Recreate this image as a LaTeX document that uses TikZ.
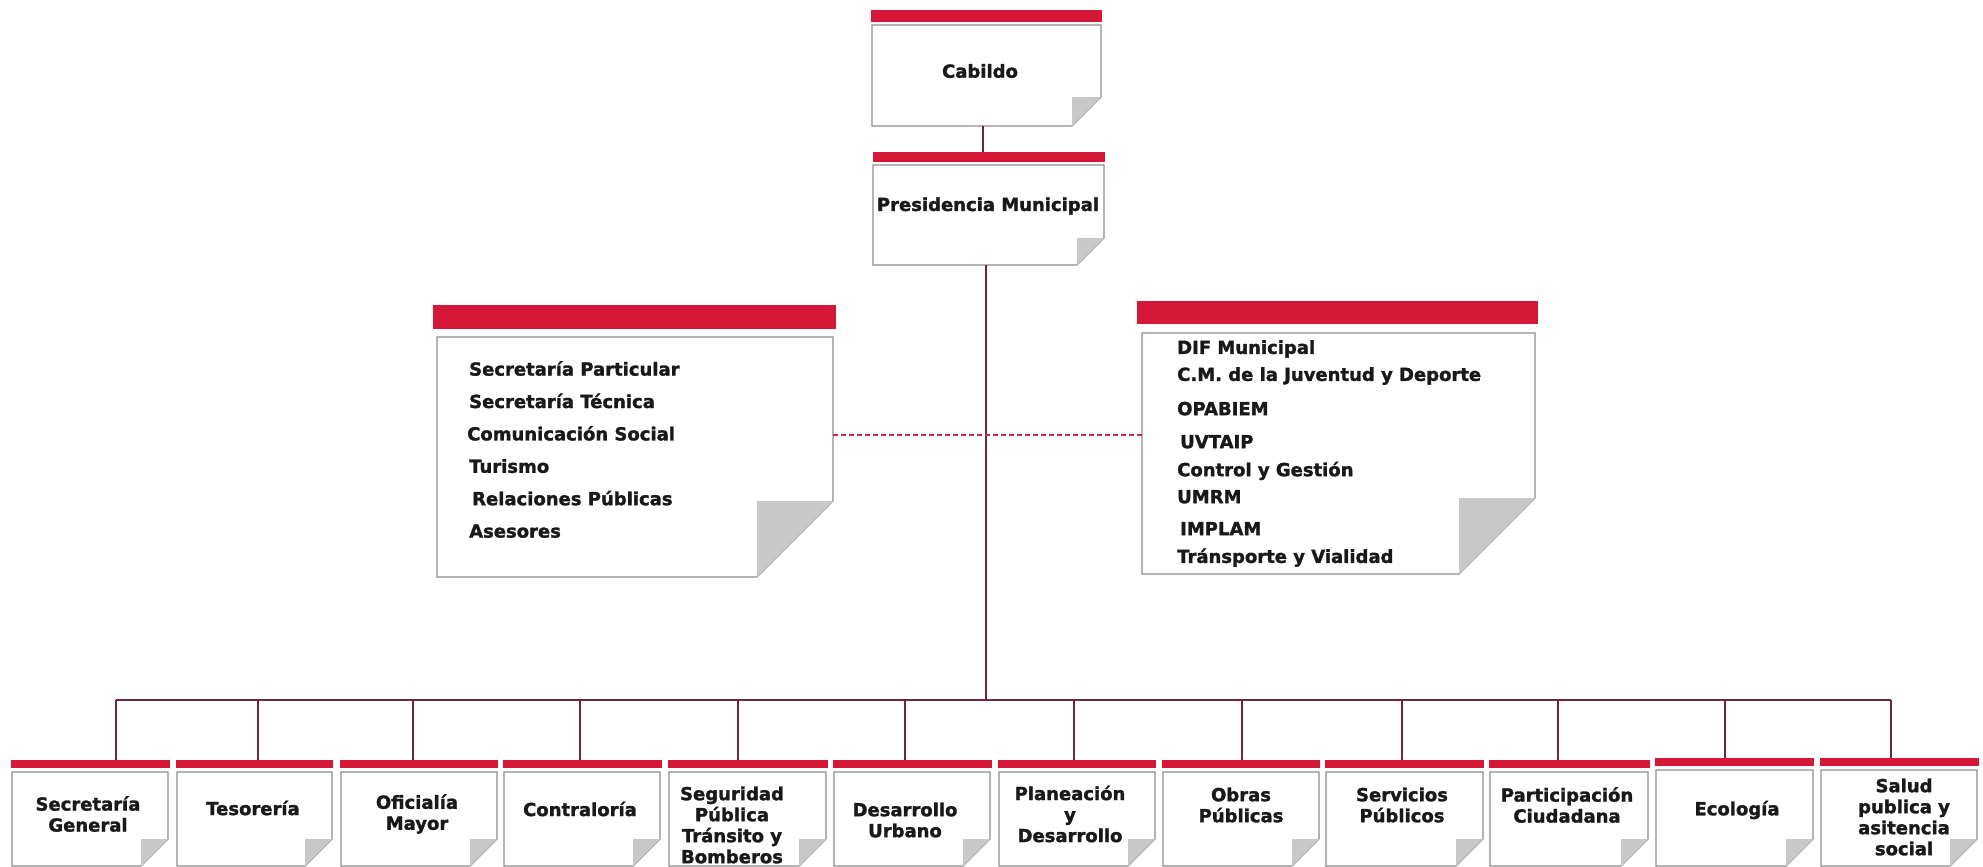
\documentclass[tikz,border=0pt]{standalone}
\usepackage{fontspec}
\setmainfont{DejaVu Sans}[BoldFeatures={FakeBold=1.6}]
\definecolor{barred}{RGB}{214,24,56}
\definecolor{connc}{RGB}{105,40,60}
\definecolor{edgec}{RGB}{140,140,140}
\definecolor{foldg}{RGB}{200,200,200}
\definecolor{dashred}{RGB}{205,45,75}
\definecolor{txtc}{RGB}{25,25,25}
\tikzset{
  redbar/.style={fill=barred, draw=none, inner sep=0pt, outer sep=0pt},
  boxnode/.style={draw=none, inner sep=0pt, outer sep=0pt},
  boxline/.style={draw=edgec, fill=white, line width=1.3pt},
  foldfill/.style={fill=foldg},
  connline/.style={draw=connc, line width=1.6pt},
  dashconn/.style={draw=dashred, line width=1.6pt, dash pattern=on 5pt off 3pt},
  txt/.style={font=\fontsize{18}{21}\selectfont\bfseries, text=txtc, inner sep=0pt, align=center},
  listtxt/.style={font=\fontsize{18}{32.4}\selectfont\bfseries, text=txtc, inner sep=0pt, align=left, anchor=north west},
}
\newcommand\foldsz{27}
% #1 name, #2 barL, #3 barR, #4 barT, #5 barB, #6 boxL, #7 boxR, #8 boxT, #9 boxB
\newcommand\docbox[9]{%
  \node[redbar, anchor=north west, minimum width={(#3-#2)*1pt}, minimum height={(#5-#4)*1pt}] (#1bar) at (#2,#4) {};
  \node[boxnode, anchor=north west, minimum width={(#7-#6)*1pt}, minimum height={(#9-#8)*1pt}] (#1) at (#6,#8) {};
  \filldraw[boxline] (#1.north west) -- (#1.north east) -- ([yshift=\foldsz pt]#1.south east) -- ([xshift=-\foldsz pt]#1.south east) -- (#1.south west) -- cycle;
  \fill[foldfill] ([xshift=-\foldsz pt, yshift=\foldsz pt]#1.south east) -- ([yshift=\foldsz pt]#1.south east) -- ([xshift=-\foldsz pt]#1.south east) -- cycle;
}
\begin{document}
\begin{tikzpicture}[x=1pt, y=-1pt]
\useasboundingbox[fill=white] (0,0) rectangle (1983,867);

% top boxes
\renewcommand\foldsz{29}
\docbox{cab}{871}{1102}{10}{22}{872}{1101}{25}{126}
\renewcommand\foldsz{27}
\docbox{pres}{873}{1105}{152}{162}{873}{1104}{165}{265}
\node[txt] (cabt) at (980,71) {Cabildo};
\node[txt] (prest) at (988,206) {Presidencia Municipal};

% middle boxes
\renewcommand\foldsz{76}
\docbox{lft}{433}{836}{305}{329}{437}{833}{337}{577}
\docbox{rgt}{1137}{1538}{301}{324}{1142}{1535}{333}{574}
\node[listtxt] (lftt) at (469,361) {Secretaría Particular\\
Secretaría Técnica\\
\hspace*{-2pt}Comunicación Social\\
Turismo\\
\hspace*{3pt}Relaciones Públicas\\
Asesores};
\node[listtxt, font=\fontsize{18}{27}\selectfont\bfseries] (rgtt) at (1177,340) {DIF Municipal\\
C.M. de la Juventud y Deporte\\[7.3pt]
OPABIEM\\[6pt]
\hspace*{3pt}UVTAIP\\[1pt]
Control y Gestión\\
UMRM\\[5pt]
\hspace*{3pt}IMPLAM\\[0.7pt]
Tránsporte y Vialidad};

% bottom boxes
\renewcommand\foldsz{27}
\docbox{b1}{11}{170}{760}{768}{12}{168}{772}{866}
\docbox{b2}{176}{333}{760}{768}{177}{332}{772}{866}
\docbox{b3}{340}{498}{760}{768}{341}{497}{772}{866}
\docbox{b4}{503}{662}{760}{768}{504}{660}{772}{866}
\docbox{b5}{668}{828}{760}{768}{669}{826}{772}{866}
\docbox{b6}{833}{992}{760}{768}{834}{990}{772}{866}
\docbox{b7}{998}{1156}{760}{768}{999}{1155}{772}{866}
\docbox{b8}{1162}{1320}{760}{768}{1163}{1319}{772}{866}
\docbox{b9}{1325}{1484}{760}{768}{1326}{1483}{772}{866}
\docbox{b10}{1489}{1650}{760}{768}{1490}{1648}{772}{866}
\docbox{b11}{1655}{1814}{758}{766}{1656}{1813}{770}{866}
\docbox{b12}{1820}{1979}{758}{766}{1821}{1977}{770}{866}

\node[txt] (b1t) at (88,814) {Secretaría\\General};
\node[txt] (b2t) at (253,808) {Tesorería};
\node[txt] (b3t) at (417,814) {Oficialía\\Mayor};
\node[txt] (b4t) at (580,809) {Contraloría};
\node[txt] (b5t) at (732,825) {Seguridad\\Pública\\Tránsito y\\Bomberos};
\node[txt] (b6t) at (905,820) {Desarrollo\\Urbano};
\node[txt] (b7t) at (1070,814) {Planeación\\y\\Desarrollo};
\node[txt] (b8t) at (1241,805) {Obras\\Públicas};
\node[txt] (b9t) at (1402,805) {Servicios\\Públicos};
\node[txt] (b10t) at (1567,805) {Participación\\Ciudadana};
\node[txt] (b11t) at (1737,810) {Ecología};
\node[txt] (b12t) at (1904,817) {Salud\\publica y\\asitencia\\social};

% connectors
\coordinate (cp) at (983,0);
\draw[connline] (cp |- cab.south) -- (cp |- presbar.north);
\coordinate (bm) at (986,700);
\draw[connline] (bm |- pres.south) -- (bm);
\coordinate (d1) at (116,700);
\coordinate (d2) at (258,700);
\coordinate (d3) at (413,700);
\coordinate (d4) at (580,700);
\coordinate (d5) at (738,700);
\coordinate (d6) at (905,700);
\coordinate (d7) at (1074,700);
\coordinate (d8) at (1242,700);
\coordinate (d9) at (1402,700);
\coordinate (d10) at (1558,700);
\coordinate (d11) at (1725,700);
\coordinate (d12) at (1891,700);
\draw[connline] (d1) -- (d12);
\foreach \i in {1,...,12}{
  \draw[connline] (d\i) -- (d\i |- b\i bar.north);
}
\coordinate (dy) at (0,435);
\draw[dashconn] (lft.east |- dy) -- (rgt.west |- dy);
\end{tikzpicture}
\end{document}
